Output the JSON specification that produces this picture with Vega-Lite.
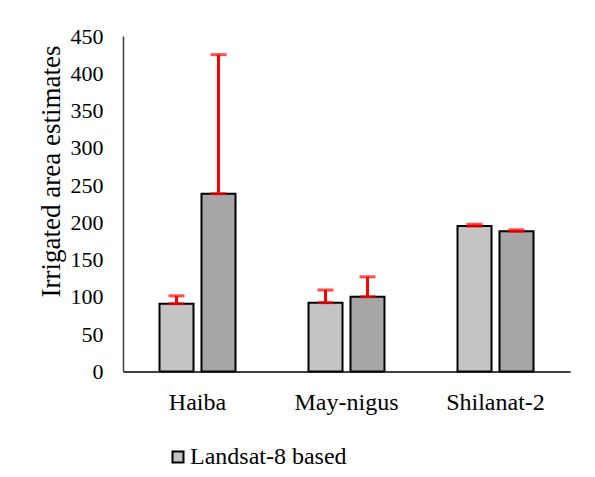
{
  "$schema": "https://vega.github.io/schema/vega-lite/v6.json",
  "width": 447,
  "height": 335.5,
  "autosize": {"type": "none"},
  "padding": {"left": 123, "top": 36, "right": 25, "bottom": 105.5},
  "background": "white",
  "config": {
    "view": {"stroke": null},
    "font": "Liberation Serif",
    "axisY": {
      "labelOverlap": false,
      "labelBound": false,
      "labelFlush": false,
      "grid": false,
      "ticks": false,
      "labelPadding": 20,
      "labelFontSize": 22,
      "labelColor": "black",
      "domainColor": "#404040",
      "domainWidth": 1.5,
      "titleFontSize": 27,
      "titleFontWeight": "normal",
      "titleColor": "black",
      "titleAngle": 270,
      "titleX": -64,
      "titleY": 135,
      "titleAlign": "center",
      "titleBaseline": "alphabetic"
    }
  },
  "data": {
    "values": [
      {"site": "Haiba", "series": "Landsat-8 based", "value": 91, "upper": 101.5},
      {"site": "Haiba", "series": "Series 2", "value": 238.5, "upper": 425},
      {"site": "May-nigus", "series": "Landsat-8 based", "value": 92.3, "upper": 109.3},
      {"site": "May-nigus", "series": "Series 2", "value": 100.3, "upper": 127},
      {"site": "Shilanat-2", "series": "Landsat-8 based", "value": 195, "upper": 197.5},
      {"site": "Shilanat-2", "series": "Series 2", "value": 188, "upper": 190}
    ]
  },
  "encoding": {
    "x": {
      "field": "site",
      "type": "nominal",
      "sort": null,
      "scale": {"paddingInner": 0.49, "paddingOuter": 0.245},
      "axis": {
        "title": null,
        "labelAngle": 0,
        "labelFontSize": 24,
        "labelColor": "black",
        "labelPadding": 19,
        "ticks": false,
        "domainColor": "black",
        "domainWidth": 1.5
      }
    },
    "xOffset": {
      "field": "series",
      "type": "nominal",
      "sort": null,
      "scale": {"paddingInner": 0.19, "paddingOuter": 0}
    },
    "y": {
      "field": "value",
      "type": "quantitative",
      "scale": {"domain": [0, 450], "nice": false},
      "axis": {
        "values": [0, 50, 100, 150, 200, 250, 300, 350, 400, 450],
        "title": "Irrigated area estimates"
      }
    }
  },
  "layer": [
    {
      "mark": {"type": "bar", "stroke": "black", "strokeWidth": 2},
      "encoding": {
        "fill": {
          "field": "series",
          "type": "nominal",
          "sort": null,
          "scale": {"range": ["#c4c4c4", "#a6a6a6"]},
          "legend": {
            "values": ["Landsat-8 based"],
            "orient": "none",
            "legendX": 43,
            "legendY": 409,
            "title": null,
            "padding": 0,
            "labelFontSize": 24,
            "labelColor": "black",
            "labelOffset": 0,
            "symbolType": "square",
            "symbolSize": 121,
            "symbolStrokeColor": "black",
            "symbolStrokeWidth": 2
          }
        }
      }
    },
    {
      "mark": {"type": "rule", "color": "red", "strokeWidth": 3},
      "encoding": {
        "y2": {"field": "upper"}
      }
    },
    {
      "mark": {"type": "tick", "color": "red", "thickness": 3, "size": 16},
      "encoding": {
        "y": {
          "field": "upper",
          "type": "quantitative",
          "scale": {"domain": [0, 450], "nice": false},
          "axis": {
            "values": [0, 50, 100, 150, 200, 250, 300, 350, 400, 450],
            "title": "Irrigated area estimates"
          }
        }
      }
    },
    {
      "mark": {"type": "tick", "color": "red", "thickness": 3, "size": 16},
      "encoding": {}
    }
  ]
}
